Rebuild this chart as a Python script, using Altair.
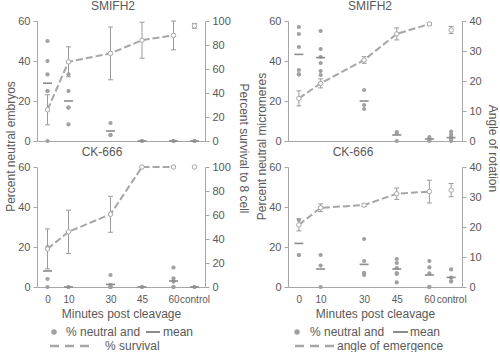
import altair as alt
import pandas as pd

# ---------------- data ----------------
CAT_LABELS = ["0", "10", "30", "45", "60", "control"]
CAT_POS = [0, 10, 30, 45, 60, 70]

# SMIFH2 - neutral embryos (left axis) and survival (right axis)
smi_emb_points = [[50, 40, 33.3, 25, 25, 0], [33.3, 25, 16.7, 16.7, 8.3], [9, 3, 3],
                  [0, 0], [0, 0], [0, 0]]
smi_emb_mean = [28.9, 20, 5, 0, 0, 0]
smi_surv = [26, 66, 73, 84, 88, 96]
smi_surv_err = [12.5, 12.5, 22, 15, 12, 2]

# CK-666 - neutral embryos and survival
ck_emb_points = [[20, 4, 0], [0, 0], [6, 1, 0, 0, 0], [0, 0], [9.7, 4.3, 2.7, 0, 0], [0, 0]]
ck_emb_mean = [8, 0, 1.3, 0, 3, 0]
ck_surv = [31.7, 46, 60.6, 100, 100, 100]
ck_surv_err = [16.7, 18, 15, 0, 0, 0]

# SMIFH2 - neutral micromeres and angle of rotation
smi_mic_points = [[57, 53.5, 47, 35.5, 33.3, 33.3], [55, 46, 42, 39, 35, 33], [25.5, 18, 16],
                  [4.5, 4, 0], [2, 1, 0.5, 0], [4.7, 3.3, 2, 1.3, 0.5, 0]]
smi_mic_mean = [43.3, 41.7, 20, 3, 1, 1.7]
smi_angle = [14.2, 19.2, 27, 35.7, 39, 37]
smi_angle_err = [2.5, 1.5, 1.1, 2, 0.5, 1.2]

# CK-666 - neutral micromeres and angle of rotation
ck_mic_points = [[33.5, 16, 16], [16, 10.7, 0], [24, 13, 7, 7, 6], [14, 12, 9.5, 7, 6.5, 2.3],
                 [13, 9.8, 6.8, 0, 0], [8.8, 4.7, 2.7, 3]]
ck_mic_mean = [21.8, 9, 11.3, 9, 6, 4.8]
ck_angle = [20.7, 26.4, 27.3, 31.1, 31.8, 32.3]
ck_angle_err = [2, 1.3, 0.5, 1.9, 3.8, 2.2]

LEGEND_LEFT = ["% neutral and", "mean", "% survival"]
LEGEND_RIGHT = ["% neutral and", "mean", "angle of emergence"]

# ---------------- style ----------------
FONT = "Liberation Sans"
TEXT = "#595959"
AXIS = "#a6a6a6"
PT = "#a0a0a0"
MEAN = "#8c8c8c"
LINE = "#a6a6a6"
ERR = "#9a9a9a"

label_expr = "datum.value == 70 ? 'control' : datum.label"


def panel(title, title_dx, width, pts, means, vals, errs, rmax, rstep,
          left_title, right_title, right_title_x, bottom, legend):
    pts_df = pd.DataFrame([{"x": CAT_POS[i], "v": v} for i, lst in enumerate(pts) for v in lst])
    mean_df = pd.DataFrame({"x": CAT_POS, "v": means})
    line_df = pd.DataFrame({"x": CAT_POS, "v": vals, "e": errs})

    xscale = alt.Scale(domain=[-5, 75], nice=False, zero=False)
    if bottom:
        xaxis = alt.Axis(values=CAT_POS, labelExpr=label_expr, ticks=False, domainColor=AXIS,
                         labelColor=TEXT, labelFont=FONT, labelFontSize=10, labelPadding=7,
                         labelOverlap=False, labelBound=False,
                         title="Minutes post cleavage", titleFont=FONT, titleFontSize=12,
                         titleFontWeight="normal", titleColor=TEXT, titlePadding=4, grid=False)
    else:
        xaxis = alt.Axis(labels=False, ticks=False, domainColor=AXIS, title=None, grid=False)

    X = alt.X("x:Q", scale=xscale, axis=xaxis)

    lscale = alt.Scale(domain=[0, 60], nice=False)
    laxis = alt.Axis(orient="left", values=[0, 20, 40, 60], grid=False, domainColor=AXIS,
                     tickColor=AXIS, tickSize=4, labelColor=TEXT, labelFont=FONT,
                     labelFontSize=11, labelPadding=3,
                     title=left_title if left_title else "",
                     titleFont=FONT, titleFontSize=12, titleFontWeight="normal", titleColor=TEXT,
                     titleX=-27, titleY=125, titleAngle=-90, titleBaseline="middle",
                     titleAlign="center")
    rscale = alt.Scale(domain=[0, rmax], nice=False)
    raxis = alt.Axis(orient="right", values=list(range(0, rmax + 1, rstep)), grid=False,
                     domainColor=AXIS, tickColor=AXIS, tickSize=4, labelColor=TEXT,
                     labelFont=FONT, labelFontSize=11, labelPadding=3,
                     title=right_title if right_title else "",
                     titleFont=FONT, titleFontSize=12, titleFontWeight="normal", titleColor=TEXT,
                     titleX=right_title_x, titleY=127, titleAngle=90, titleBaseline="middle",
                     titleAlign="center")

    points = alt.Chart(pts_df).mark_circle(size=18, color=PT, opacity=1).encode(
        x=X, y=alt.Y("v:Q", scale=lscale, axis=laxis),
    )
    mean_t = alt.Chart(mean_df).mark_tick(orient="horizontal", size=9, thickness=1.6,
                                          color=MEAN, opacity=1).encode(
        x=X, y=alt.Y("v:Q", scale=lscale, axis=None),
    )

    base = alt.Chart(line_df).transform_calculate(lo="datum.v - datum.e", hi="datum.v + datum.e")
    err_rule = base.mark_rule(color=ERR, strokeWidth=1).encode(
        x=X, y=alt.Y("lo:Q", scale=rscale, axis=raxis), y2="hi:Q",
    )
    cap_lo = base.mark_tick(orient="horizontal", size=5, thickness=1, color=ERR, opacity=1).encode(
        x=X, y=alt.Y("lo:Q", scale=rscale, axis=None),
    )
    cap_hi = base.mark_tick(orient="horizontal", size=5, thickness=1, color=ERR, opacity=1).encode(
        x=X, y=alt.Y("hi:Q", scale=rscale, axis=None),
    )
    line = alt.Chart(line_df).transform_filter("datum.x < 65").mark_line(
        color=LINE, strokeWidth=2, strokeDash=[7, 3]).encode(
        x=X, y=alt.Y("v:Q", scale=rscale, axis=None),
    )
    markers = alt.Chart(line_df).mark_point(shape="circle", size=20, color=LINE, fill="white",
                                            filled=False, opacity=1, strokeWidth=1).encode(
        x=X, y=alt.Y("v:Q", scale=rscale, axis=None),
    )

    layers = [points, mean_t, err_rule, cap_lo, cap_hi, line, markers]
    if legend is not None:
        lx = legend
        lg = alt.Chart(pd.DataFrame({"t": [0]}))
        layers.append(lg.mark_circle(size=30, color=PT, opacity=1).encode(
            x=alt.value(lx["circle"]), y=alt.value(165)))
        layers.append(lg.mark_text(align="left", baseline="middle", font=FONT, fontSize=12,
                                   color=TEXT).encode(
            x=alt.value(lx["t1"]), y=alt.value(165), text=alt.value(lx["labels"][0])))
        layers.append(lg.mark_rule(color=MEAN, strokeWidth=2).encode(
            x=alt.value(lx["m0"]), x2=alt.value(lx["m1"]), y=alt.value(165)))
        layers.append(lg.mark_text(align="left", baseline="middle", font=FONT, fontSize=12,
                                   color=TEXT).encode(
            x=alt.value(lx["t2"]), y=alt.value(165), text=alt.value(lx["labels"][1])))
        layers.append(lg.mark_rule(color=LINE, strokeWidth=2.5, strokeDash=[9, 6]).encode(
            x=alt.value(lx["d0"]), x2=alt.value(lx["d1"]), y=alt.value(179)))
        layers.append(lg.mark_text(align="left", baseline="middle", font=FONT, fontSize=12,
                                   color=TEXT).encode(
            x=alt.value(lx["t3"]), y=alt.value(179), text=alt.value(lx["labels"][2])))

    return alt.layer(*layers).resolve_scale(y="independent").properties(
        width=width, height=120,
        title=alt.TitleParams(title, font=FONT, fontSize=12, fontWeight="normal", color=TEXT,
                              offset=2, dx=title_dx, frame="group"),
    )


tl = panel("SMIFH2", -8, 168, smi_emb_points, smi_emb_mean, smi_surv, smi_surv_err, 100, 20,
           "Percent neutral embryos", "Percent survival to 8 cell", 38, False, None)
tr = panel("SMIFH2", -5, 174, smi_mic_points, smi_mic_mean, smi_angle, smi_angle_err, 40, 10,
           "Percent neutral micromeres", "Angle of rotation", 30, False, None)
bl = panel("CK-666", -19, 168, ck_emb_points, ck_emb_mean, ck_surv, ck_surv_err, 100, 20,
           None, None, 38, True,
           {"circle": 17, "t1": 29, "m0": 109, "m1": 123, "t2": 126, "d0": 13, "d1": 55,
            "t3": 68, "labels": LEGEND_LEFT})
br = panel("CK-666", -22, 174, ck_mic_points, ck_mic_mean, ck_angle, ck_angle_err, 40, 10,
           None, None, 30, True,
           {"circle": 9, "t1": 22, "m0": 105, "m1": 120, "t2": 122, "d0": 7, "d1": 47,
            "t3": 49, "labels": LEGEND_RIGHT})

chart = alt.concat(tl, tr, bl, br, columns=2, spacing={"row": 26, "column": 83},
                   bounds="flush").properties(
    padding={"left": 4, "top": 0, "right": 0, "bottom": 0},
    background="white",
).configure_view(stroke=None)

chart.save("out.html", embed_options={"renderer": "svg", "actions": False})
